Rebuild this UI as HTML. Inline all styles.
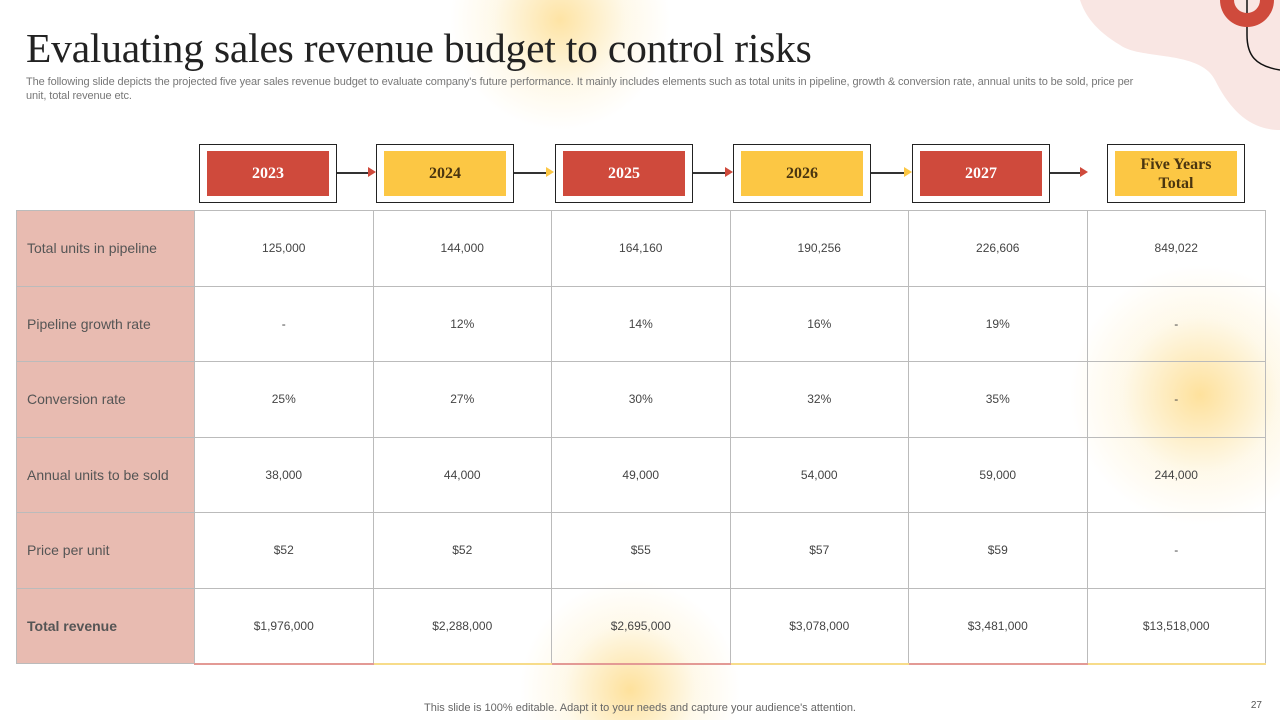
<!DOCTYPE html>
<html style="overflow:hidden;width:1280px;height:720px"><head><meta charset="utf-8"><style>
*{margin:0;padding:0;box-sizing:border-box}
body{width:1280px;height:720px;position:relative;overflow:hidden;background:#fff;font-family:"Liberation Sans",sans-serif}
.glow{position:absolute;pointer-events:none}
#title{position:absolute;left:26px;top:24px;font-family:"Liberation Serif",serif;font-size:41.5px;color:#222;white-space:nowrap;letter-spacing:-0.2px}
#sub{position:absolute;left:26px;top:75px;width:1125px;font-size:11px;line-height:14px;color:#777;letter-spacing:-0.1px}
.hb{position:absolute;top:144px;height:59px;border:1.5px solid #222;background:#fff}
.hb div{position:absolute;left:7px;top:6px;right:7px;bottom:6px;display:flex;align-items:center;justify-content:center;font-family:"Liberation Serif",serif;font-weight:bold;font-size:16px;text-align:center;line-height:19px}
.red{background:#cf4a3c;color:#fff}.yel{background:#fcc744;color:#4a3510}
.arr{position:absolute;top:172px;height:1.5px;background:#333}
.arr i{position:absolute;right:-6px;top:-5px;border-left:8px solid #cf4a3c;border-top:5.5px solid transparent;border-bottom:5.5px solid transparent}
table{position:absolute;left:16px;top:210px;border-collapse:collapse;table-layout:fixed}
td{border:1px solid #bbb;height:75.5px;font-size:12px;color:#444;text-align:center}
td.l{background:rgba(226,170,158,0.8);text-align:left;padding-left:10px;font-size:14px;color:#555;width:178px}
td.v{width:178.5px}
#foot{position:absolute;left:0;width:1280px;top:702px;text-align:center;font-size:11px;color:#666}
#pg{position:absolute;right:18px;top:700px;font-size:10px;color:#555}
</style></head><body>
<div class="glow" style="left:440px;top:0;width:240px;height:130px;background:radial-gradient(circle 110px at 50% 20px,rgba(253,205,90,0.55),rgba(253,225,150,0.2) 60%,rgba(255,255,255,0))"></div>
<div class="glow" style="left:1070px;top:265px;width:210px;height:260px;background:radial-gradient(circle 130px at 130px 130px,rgba(253,205,90,0.6),rgba(253,225,150,0.2) 60%,rgba(255,255,255,0))"></div>
<div class="glow" style="left:520px;top:580px;width:220px;height:140px;background:radial-gradient(circle 110px at 50% 110px,rgba(253,205,90,0.6),rgba(253,225,150,0.2) 60%,rgba(255,255,255,0))"></div>
<svg style="position:absolute;left:1080px;top:0" width="200" height="140">
<path d="M0 0 H200 V130 C170 130 150 110 135 80 C120 50 60 60 40 45 C15 30 5 15 0 0Z" fill="#f9e6e3"/>
<path d="M167 0 V35 C167 55 175 66 200 70" stroke="#111" stroke-width="1.5" fill="none"/>
<path d="M140 0 A27 27 0 0 0 194 0 H180 A13 13 0 0 1 154 0Z" fill="#cf4a3c"/>
</svg>
<div id="title">Evaluating sales revenue budget to control risks</div>
<div id="sub">The following slide depicts the projected five year  sales revenue budget to evaluate company's future performance. It mainly includes elements such as total units in pipeline, growth &amp; conversion rate, annual units to be sold, price per unit, total revenue etc.</div>

<div class="hb" style="left:199px;width:138px"><div class="red">2023</div></div>
<div class="arr" style="left:337px;width:33px"><i></i></div>
<div class="hb" style="left:376px;width:138px"><div class="yel">2024</div></div>
<div class="arr" style="left:514px;width:34px"><i style="border-left-color:#fcc744"></i></div>
<div class="hb" style="left:555px;width:138px"><div class="red">2025</div></div>
<div class="arr" style="left:693px;width:34px"><i></i></div>
<div class="hb" style="left:733px;width:138px"><div class="yel">2026</div></div>
<div class="arr" style="left:871px;width:35px"><i style="border-left-color:#fcc744"></i></div>
<div class="hb" style="left:912px;width:138px"><div class="red">2027</div></div>
<div class="arr" style="left:1050px;width:32px"><i></i></div>
<div class="hb" style="left:1107px;width:138px"><div class="yel">Five Years<br>Total</div></div>

<table>
<tr><td class="l">Total units in pipeline</td><td class="v">125,000</td><td class="v">144,000</td><td class="v">164,160</td><td class="v">190,256</td><td class="v">226,606</td><td class="v">849,022</td></tr>
<tr><td class="l">Pipeline growth rate</td><td class="v">-</td><td class="v">12%</td><td class="v">14%</td><td class="v">16%</td><td class="v">19%</td><td class="v">-</td></tr>
<tr><td class="l">Conversion rate</td><td class="v">25%</td><td class="v">27%</td><td class="v">30%</td><td class="v">32%</td><td class="v">35%</td><td class="v">-</td></tr>
<tr><td class="l">Annual units to be sold</td><td class="v">38,000</td><td class="v">44,000</td><td class="v">49,000</td><td class="v">54,000</td><td class="v">59,000</td><td class="v">244,000</td></tr>
<tr><td class="l">Price per unit</td><td class="v">$52</td><td class="v">$52</td><td class="v">$55</td><td class="v">$57</td><td class="v">$59</td><td class="v">-</td></tr>
<tr><td class="l" style="font-weight:bold">Total revenue</td><td class="v" style="border-bottom:2px solid #e39a95">$1,976,000</td><td class="v" style="border-bottom:2px solid #f7dc8a">$2,288,000</td><td class="v" style="border-bottom:2px solid #e39a95">$2,695,000</td><td class="v" style="border-bottom:2px solid #f7dc8a">$3,078,000</td><td class="v" style="border-bottom:2px solid #e39a95">$3,481,000</td><td class="v" style="border-bottom:2px solid #f7dc8a">$13,518,000</td></tr>
</table>
<div id="foot">This slide is 100% editable. Adapt it to your needs and capture your audience's attention.</div>
<div id="pg">27</div>
</body></html>
